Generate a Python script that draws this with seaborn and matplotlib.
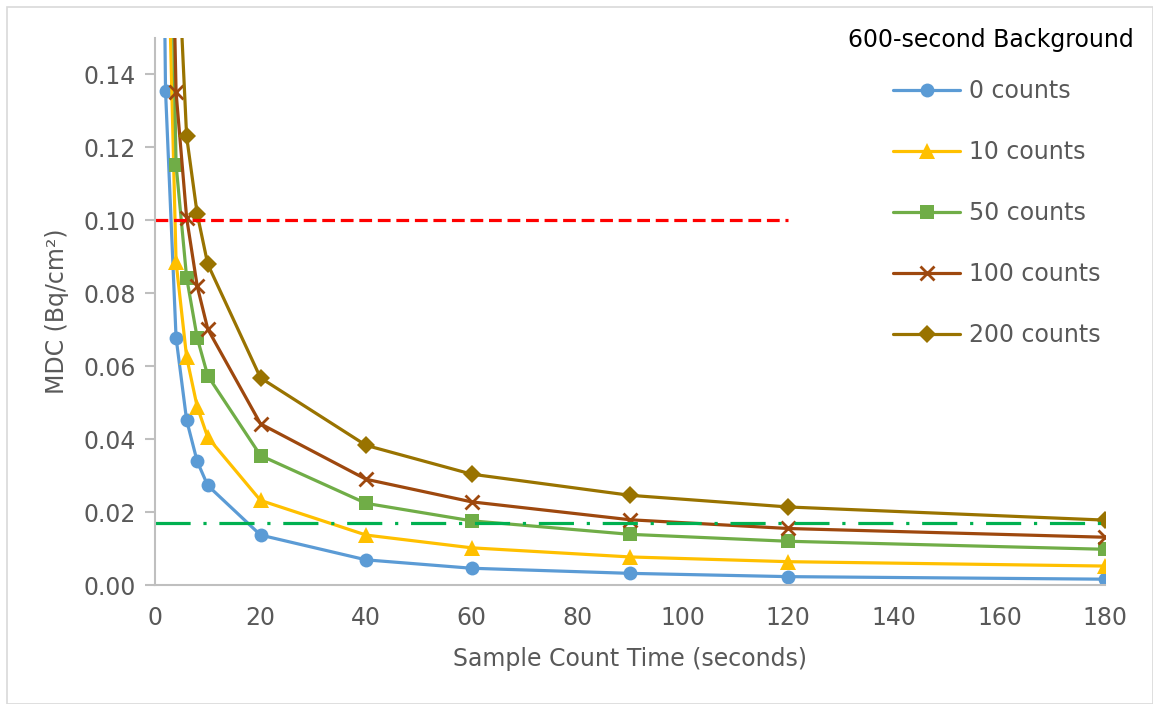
import matplotlib
matplotlib.use("Agg")
from matplotlib import pyplot as plt
from matplotlib.patches import Rectangle
import seaborn as sns
import pandas as pd

# sample count times (s) and MDC values (Bq/cm2) per background level
times = [1, 2, 4, 6, 8, 10, 20, 40, 60, 90, 120, 180]
mdc_0 = [0.27, 0.1356, 0.0678, 0.0452, 0.0339, 0.0273, 0.0137, 0.0069, 0.0046, 0.0032, 0.0023, 0.0016]
mdc_10 = [0.40, 0.205, 0.0885, 0.0625, 0.0489, 0.0405, 0.0232, 0.0137, 0.0102, 0.0077, 0.0064, 0.0052]
mdc_50 = [0.50, 0.27, 0.1153, 0.0843, 0.0678, 0.0574, 0.0355, 0.0224, 0.0176, 0.0139, 0.0120, 0.0098]
mdc_100 = [0.55, 0.27, 0.1351, 0.1007, 0.0820, 0.0702, 0.0442, 0.0290, 0.0228, 0.0179, 0.0155, 0.0131]
mdc_200 = [0.75, 0.37, 0.185, 0.1230, 0.1018, 0.0880, 0.0568, 0.0383, 0.0304, 0.0246, 0.0214, 0.0178]
series_names = ["0 counts", "10 counts", "50 counts", "100 counts", "200 counts"]

# reference limits
red_limit = 0.10
red_limit_x = [0, 120]
green_limit = 0.017
green_limit_x = [0, 180]

colors = ["#5B9BD5", "#FFC000", "#70AD47", "#9E480E", "#997300"]
markers = ["o", "^", "s", "x", "D"]
msizes = {"o": 10, "^": 11, "s": 10, "x": 10, "D": 9}

rows = []
for name, vals in zip(series_names, [mdc_0, mdc_10, mdc_50, mdc_100, mdc_200]):
    for t, v in zip(times, vals):
        rows.append({"time": t, "mdc": v, "series": name})
df = pd.DataFrame(rows)

sns.set_style("white")
plt.rcParams["font.family"] = ["DejaVu Sans"]
FS = 17

fig = plt.figure(figsize=(11.53, 7.04), dpi=100)
ax = fig.add_axes([0.1344, 0.169, 0.824, 0.777])

for name, color, mk in zip(series_names, colors, markers):
    sub = df[df["series"] == name]
    sns.lineplot(data=sub, x="time", y="mdc", ax=ax, color=color, linewidth=2.3,
                 marker=mk, markersize=msizes[mk],
                 markeredgewidth=2 if mk == "x" else 0,
                 markeredgecolor=color, label=name)

ax.plot(red_limit_x, [red_limit, red_limit], color="#FF0000", linewidth=2.3,
        dashes=(4, 1.8))
ax.plot(green_limit_x, [green_limit, green_limit], color="#00B050", linewidth=2.3,
        dashes=(11, 4, 1, 4))

ax.set_xlim(0, 180)
ax.set_ylim(0, 0.15)
ax.set_xticks(range(0, 181, 20))
ax.set_yticks([0, 0.02, 0.04, 0.06, 0.08, 0.10, 0.12, 0.14])
ax.set_yticklabels([f"{v:.2f}" for v in ax.get_yticks()])

for side in ["top", "right"]:
    ax.spines[side].set_visible(False)
for side in ["left", "bottom"]:
    ax.spines[side].set_color("#BFBFBF")
    ax.spines[side].set_linewidth(1.5)
ax.tick_params(axis="y", length=7, width=1.5, color="#BFBFBF", labelsize=FS,
               labelcolor="#595959", pad=7, left=True)
ax.tick_params(axis="x", length=0, labelsize=FS, labelcolor="#595959", pad=15)

ax.set_xlabel("Sample Count Time (seconds)", fontsize=FS, color="#595959", labelpad=12)
ax.set_ylabel("MDC (Bq/cm²)", fontsize=FS, color="#595959", labelpad=10)

leg = ax.legend(loc="upper left", bbox_to_anchor=(893 / 1153, 1 - 79 / 704),
                bbox_transform=fig.transFigure, frameon=False, fontsize=FS,
                handlelength=2.85, labelspacing=1.57, handletextpad=0.35,
                borderpad=0, borderaxespad=0)
for txt in leg.get_texts():
    txt.set_color("#595959")
fig.text(1134 / 1153, 1 - 40 / 704, "600-second Background", fontsize=FS,
         color="black", ha="right", va="center")

fig.patches.append(Rectangle((0.006, 0.0), 0.994, 0.99, transform=fig.transFigure,
                             fill=False, edgecolor="#D9D9D9", linewidth=1.2))

fig.savefig("out.png", dpi=100, facecolor="white")
